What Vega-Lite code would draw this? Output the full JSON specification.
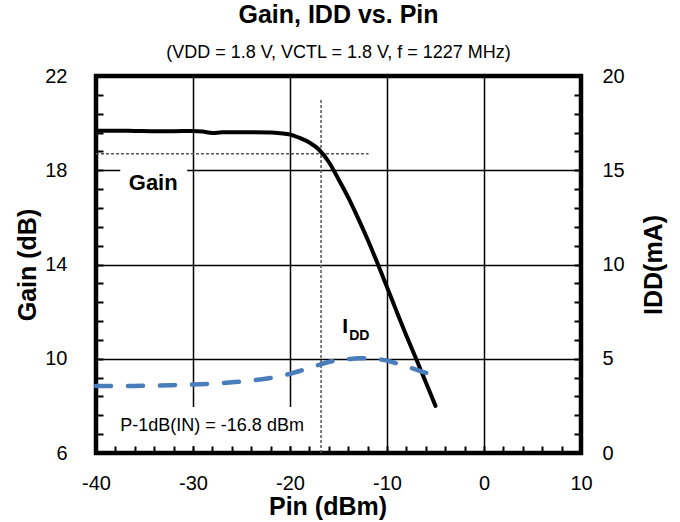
{
  "$schema": "https://vega.github.io/schema/vega-lite/v6.json",
  "width": 485,
  "height": 377,
  "autosize": "none",
  "padding": {"left": 96, "top": 76, "right": 99, "bottom": 69},
  "background": "white",
  "config": {
    "font": "Liberation Sans",
    "view": {"stroke": "black", "strokeWidth": 4.5},
    "axis": {
      "domain": false,
      "labelColor": "black",
      "labelFontSize": 20,
      "labelOverlap": false,
      "labelFlush": false,
      "tickCount": 100,
      "titleColor": "black",
      "titleFontSize": 25,
      "titleFontWeight": "bold",
      "tickColor": "black",
      "tickWidth": 2,
      "gridColor": "black",
      "gridWidth": 1.5
    }
  },
  "title": {
    "text": "Gain, IDD vs. Pin",
    "subtitle": "(VDD = 1.8 V, VCTL = 1.8 V, f = 1227 MHz)",
    "fontSize": 25,
    "fontWeight": "bold",
    "color": "black",
    "subtitleFontSize": 18,
    "subtitleColor": "black",
    "anchor": "middle",
    "offset": 4,
    "subtitlePadding": 16
  },
  "datasets": {
    "gain": [
      {"pin": -40, "gain": 19.68}, {"pin": -38, "gain": 19.68}, {"pin": -36, "gain": 19.67},
      {"pin": -34, "gain": 19.66}, {"pin": -32, "gain": 19.66}, {"pin": -30, "gain": 19.67},
      {"pin": -29, "gain": 19.64}, {"pin": -28, "gain": 19.58}, {"pin": -27, "gain": 19.61},
      {"pin": -26, "gain": 19.61}, {"pin": -24, "gain": 19.61}, {"pin": -22, "gain": 19.6},
      {"pin": -21, "gain": 19.57}, {"pin": -20, "gain": 19.52}, {"pin": -19, "gain": 19.37},
      {"pin": -18, "gain": 19.18}, {"pin": -17, "gain": 18.87}, {"pin": -16, "gain": 18.35},
      {"pin": -15, "gain": 17.62}, {"pin": -14, "gain": 16.85}, {"pin": -13, "gain": 15.98},
      {"pin": -12, "gain": 15.06}, {"pin": -11, "gain": 14.07}, {"pin": -10, "gain": 13.04},
      {"pin": -9, "gain": 12.0}, {"pin": -8, "gain": 10.98}, {"pin": -7, "gain": 10.0},
      {"pin": -6, "gain": 9.0}, {"pin": -5, "gain": 8.0}
    ],
    "idd": [
      {"pin": -40, "idd": 3.55}, {"pin": -38, "idd": 3.55}, {"pin": -36, "idd": 3.56},
      {"pin": -34, "idd": 3.57}, {"pin": -32, "idd": 3.6}, {"pin": -30, "idd": 3.63},
      {"pin": -28, "idd": 3.68}, {"pin": -26, "idd": 3.75}, {"pin": -24, "idd": 3.84},
      {"pin": -22, "idd": 3.98}, {"pin": -20, "idd": 4.2}, {"pin": -19, "idd": 4.35},
      {"pin": -18, "idd": 4.52}, {"pin": -17, "idd": 4.68}, {"pin": -16, "idd": 4.83},
      {"pin": -15, "idd": 4.92}, {"pin": -14, "idd": 4.98}, {"pin": -13, "idd": 5.02},
      {"pin": -12, "idd": 5.02}, {"pin": -11, "idd": 4.98}, {"pin": -10, "idd": 4.9},
      {"pin": -9, "idd": 4.75}, {"pin": -8, "idd": 4.6}, {"pin": -7, "idd": 4.42},
      {"pin": -6, "idd": 4.25}, {"pin": -5, "idd": 4.12}
    ],
    "boxes": [
      {"x1": -37.5, "x2": -30.6, "y1": 16.9, "y2": 18.4},
      {"x1": -39, "x2": -17.4, "y1": 6.3, "y2": 7.95}
    ],
    "vref": [{"pin": -16.8, "g1": 6, "g2": 21.03}],
    "href": [{"p1": -40, "p2": -11.9, "g": 18.7}],
    "gainLabel": [{"pin": -34.1, "gain": 17.47, "text": "Gain"}],
    "p1dbLabel": [{"pin": -28.03, "gain": 7.15, "text": "P-1dB(IN) = -16.8 dBm"}],
    "iLabel": [{"pin": -14.3, "gain": 11.33, "text": "I"}],
    "ddLabel": [{"pin": -12.86, "gain": 10.97, "text": "DD"}]
  },
  "layer": [
    {
      "layer": [
        {
          "data": {"name": "boxes"},
          "mark": {"type": "rect", "color": "white"},
          "encoding": {
            "x": {"field": "x1", "type": "quantitative", "scale": {"domain": [-40, 10], "nice": false},
              "title": "Pin (dBm)",
              "axis": {
                "values": [-40,-38,-36,-34,-32,-30,-28,-26,-24,-22,-20,-18,-16,-14,-12,-10,-8,-6,-4,-2,0,2,4,6,8,10],
                "labelExpr": "datum.value % 10 === 0 ? '' + datum.value : ''",
                "tickSize": -7,
                "tickCount": 100,
                "labelPadding": 27,
                "grid": true,
                "gridOpacity": {"condition": {"test": "indexof([-30,-20,-10,0], datum.value) >= 0", "value": 1}, "value": 0},
                "titleX": 231.5,
                "titleY": 53,
                "titleBaseline": "middle"
              }},
            "x2": {"field": "x2"},
            "y": {"field": "y1", "type": "quantitative", "scale": {"domain": [6, 22], "nice": false},
              "title": "Gain (dB)",
              "axis": {
                "orient": "left",
                "values": [6,6.8,7.6,8.4,9.2,10,10.8,11.6,12.4,13.2,14,14.8,15.6,16.4,17.2,18,18.8,19.6,20.4,21.2,22],
                "labelExpr": "abs((datum.value - 6) / 4 - round((datum.value - 6) / 4)) < 0.01 ? '' + datum.value : ''",
                "tickSize": -7,
                "tickCount": 100,
                "labelPadding": 36,
                "grid": true,
                "gridOpacity": {"condition": {"test": "abs(datum.value - 10) < 0.01 || abs(datum.value - 14) < 0.01 || abs(datum.value - 18) < 0.01", "value": 1}, "value": 0},
                "titleX": -69,
                "titleY": 188.5,
                "titleBaseline": "middle"
              }},
            "y2": {"field": "y2"}
          }
        },
        {
          "data": {"name": "vref"},
          "mark": {"type": "rule", "color": "#555555", "strokeWidth": 1.5, "strokeDash": [3, 2]},
          "encoding": {
            "x": {"field": "pin", "type": "quantitative", "scale": {"domain": [-40, 10], "nice": false}},
            "y": {"field": "g1", "type": "quantitative", "scale": {"domain": [6, 22], "nice": false}},
            "y2": {"field": "g2"}
          }
        },
        {
          "data": {"name": "href"},
          "mark": {"type": "rule", "color": "#555555", "strokeWidth": 1.5, "strokeDash": [3, 2]},
          "encoding": {
            "x": {"field": "p1", "type": "quantitative", "scale": {"domain": [-40, 10], "nice": false}},
            "x2": {"field": "p2"},
            "y": {"field": "g", "type": "quantitative", "scale": {"domain": [6, 22], "nice": false}}
          }
        },
        {
          "data": {"name": "gain"},
          "mark": {"type": "line", "color": "black", "strokeWidth": 4, "strokeCap": "round", "interpolate": "monotone"},
          "encoding": {
            "x": {"field": "pin", "type": "quantitative", "scale": {"domain": [-40, 10], "nice": false}},
            "y": {"field": "gain", "type": "quantitative", "scale": {"domain": [6, 22], "nice": false}}
          }
        },
        {
          "data": {"name": "gainLabel"},
          "mark": {"type": "text", "fontSize": 22, "fontWeight": "bold", "color": "black", "baseline": "middle", "align": "center"},
          "encoding": {
            "x": {"field": "pin", "type": "quantitative", "scale": {"domain": [-40, 10], "nice": false}},
            "y": {"field": "gain", "type": "quantitative", "scale": {"domain": [6, 22], "nice": false}},
            "text": {"field": "text"}
          }
        },
        {
          "data": {"name": "p1dbLabel"},
          "mark": {"type": "text", "fontSize": 18, "color": "black", "baseline": "middle", "align": "center"},
          "encoding": {
            "x": {"field": "pin", "type": "quantitative", "scale": {"domain": [-40, 10], "nice": false}},
            "y": {"field": "gain", "type": "quantitative", "scale": {"domain": [6, 22], "nice": false}},
            "text": {"field": "text"}
          }
        },
        {
          "data": {"name": "iLabel"},
          "mark": {"type": "text", "fontSize": 21, "fontWeight": "bold", "color": "black", "baseline": "middle", "align": "center"},
          "encoding": {
            "x": {"field": "pin", "type": "quantitative", "scale": {"domain": [-40, 10], "nice": false}},
            "y": {"field": "gain", "type": "quantitative", "scale": {"domain": [6, 22], "nice": false}},
            "text": {"field": "text"}
          }
        },
        {
          "data": {"name": "ddLabel"},
          "mark": {"type": "text", "fontSize": 14, "fontWeight": "bold", "color": "black", "baseline": "middle", "align": "center"},
          "encoding": {
            "x": {"field": "pin", "type": "quantitative", "scale": {"domain": [-40, 10], "nice": false}},
            "y": {"field": "gain", "type": "quantitative", "scale": {"domain": [6, 22], "nice": false}},
            "text": {"field": "text"}
          }
        }
      ]
    },
    {
      "data": {"name": "idd"},
      "mark": {"type": "line", "color": "#4A7EBB", "strokeWidth": 4.5, "strokeDash": [15, 17], "strokeCap": "round", "interpolate": "monotone"},
      "encoding": {
        "x": {"field": "pin", "type": "quantitative", "scale": {"domain": [-40, 10], "nice": false}},
        "y": {"field": "idd", "type": "quantitative", "scale": {"domain": [0, 20], "nice": false},
          "title": "IDD(mA)",
          "axis": {
            "orient": "right",
            "values": [0,1,2,3,4,5,6,7,8,9,10,11,12,13,14,15,16,17,18,19,20],
            "labelExpr": "datum.value % 5 === 0 ? '' + datum.value : ''",
            "tickSize": -7,
            "tickCount": 100,
            "labelPadding": 28,
            "grid": false,
            "titleAngle": 270,
            "titleX": 72.5,
            "titleY": 188.5,
            "titleBaseline": "middle"
          }}
      }
    }
  ],
  "resolve": {"scale": {"y": "independent"}}
}
